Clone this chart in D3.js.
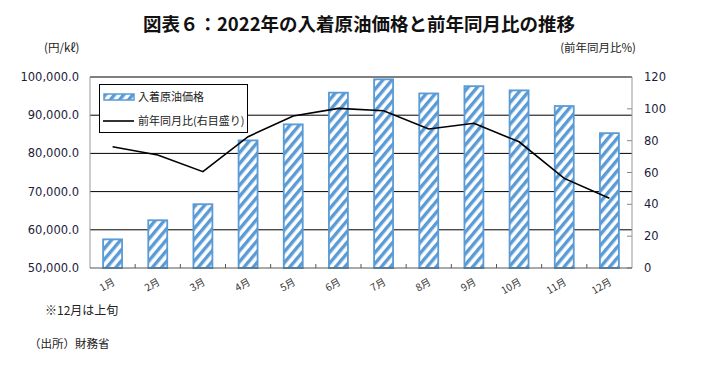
<!DOCTYPE html>
<html>
<head>
<meta charset="utf-8">
<script src="https://cdn.jsdelivr.net/npm/d3@7"></script>
<style>
  body { margin: 0; background: #fff; }
  svg { display: block; }
  text { font-family: "Noto Sans CJK JP", sans-serif; }
  .num { font-family: "DejaVu Sans", sans-serif; font-size: 11.5px; fill: #1c1c3c; }
</style>
</head>
<body>
<script>
const months = ['1月', '2月', '3月', '4月', '5月', '6月', '7月', '8月', '9月', '10月', '11月', '12月'];
const prices = [57500, 62500, 66700, 83400, 87600, 95900, 99400, 95700, 97600, 96500, 92400, 85300];
const yoy = [76.2, 71.0, 60.5, 82.5, 95.5, 100.3, 98.8, 87.3, 90.9, 79.3, 56.3, 43.8];
const leftTicks = [50000, 60000, 70000, 80000, 90000, 100000];
const rightTicks = [0, 20, 40, 60, 80, 100, 120];

const width = 701;
const height = 373;
const blue = '#5b9bd5';

const plot = { left: 90, right: 632, top: 77, bottom: 268 };

const svg = d3.select('body').append('svg').
    attr('width', width).
    attr('height', height);

const defs = svg.append('defs');

const hatch = defs.append('pattern').
    attr('id', 'hatch').
    attr('patternUnits', 'userSpaceOnUse').
    attr('width', 7).
    attr('height', 7).
    attr('patternTransform', 'rotate(40)');

hatch.append('rect').
    attr('width', 7).
    attr('height', 7).
    attr('fill', '#fff');

hatch.append('rect').
    attr('width', 3.4).
    attr('height', 7).
    attr('fill', blue);

const x = d3.scaleBand().
    domain(months).
    range([plot.left, plot.right]).
    paddingInner(0.58).
    paddingOuter(0.29);

const yLeft = d3.scaleLinear().
    domain([50000, 100000]).
    range([plot.bottom, plot.top]);

const yRight = d3.scaleLinear().
    domain([0, 120]).
    range([plot.bottom, plot.top]);

// title and unit labels
svg.append('text').
    attr('x', 359).
    attr('y', 31).
    attr('text-anchor', 'middle').
    attr('font-size', 18.5).
    attr('font-weight', 'bold').
    attr('fill', '#111').
    text('図表６：2022年の入着原油価格と前年同月比の推移');

svg.append('text').
    attr('x', 44).
    attr('y', 52).
    attr('font-size', 11.5).
    attr('fill', '#222').
    text('(円/kℓ)');

svg.append('text').
    attr('x', 636).
    attr('y', 52).
    attr('text-anchor', 'end').
    attr('font-size', 11.5).
    attr('fill', '#222').
    text('(前年同月比%)');

// gridlines
svg.append('g').
    selectAll('line').
    data(leftTicks.slice(1)).
    join('line').
    attr('x1', plot.left).
    attr('x2', plot.right).
    attr('y1', d => yLeft(d)).
    attr('y2', d => yLeft(d)).
    attr('stroke', '#000').
    attr('stroke-width', 1);

// left tick labels
svg.append('g').
    selectAll('text').
    data(leftTicks).
    join('text').
    attr('class', 'num').
    attr('x', 79).
    attr('y', d => yLeft(d) + 4).
    attr('text-anchor', 'end').
    text(d => d3.format(',.1f')(d));

// right axis
svg.append('g').
    selectAll('line').
    data(rightTicks).
    join('line').
    attr('x1', plot.right - 5).
    attr('x2', plot.right).
    attr('y1', d => yRight(d)).
    attr('y2', d => yRight(d)).
    attr('stroke', '#888');

svg.append('g').
    selectAll('text').
    data(rightTicks).
    join('text').
    attr('class', 'num').
    attr('x', 644).
    attr('y', d => yRight(d) + 4).
    text(d => d);

// bars
svg.append('g').
    selectAll('rect').
    data(prices).
    join('rect').
    attr('x', (d, i) => x(months[i])).
    attr('y', d => yLeft(d)).
    attr('width', x.bandwidth()).
    attr('height', d => plot.bottom - yLeft(d)).
    attr('fill', 'url(#hatch)').
    attr('stroke', blue).
    attr('stroke-width', 1.8);

// axis frame lines
svg.append('line').
    attr('x1', plot.left).attr('x2', plot.left).
    attr('y1', plot.top).attr('y2', plot.bottom).
    attr('stroke', '#999');

svg.append('line').
    attr('x1', plot.right).attr('x2', plot.right).
    attr('y1', plot.top).attr('y2', plot.bottom).
    attr('stroke', '#999');

svg.append('line').
    attr('x1', plot.left).attr('x2', plot.right).
    attr('y1', plot.bottom).attr('y2', plot.bottom).
    attr('stroke', '#555');

const step = x.step();

svg.append('g').
    selectAll('line').
    data(d3.range(1, months.length)).
    join('line').
    attr('x1', d => plot.left + d * step).
    attr('x2', d => plot.left + d * step).
    attr('y1', plot.bottom - 4).
    attr('y2', plot.bottom).
    attr('stroke', '#555');

// month labels
svg.append('g').
    selectAll('text').
    data(months).
    join('text').
    attr('transform', d => `translate(${x(d) + x.bandwidth() / 2 + 3}, 284) rotate(-30)`).
    attr('text-anchor', 'end').
    attr('font-size', 10).
    attr('fill', '#333').
    text(d => d);

// yoy line
const line = d3.line().
    x((d, i) => x(months[i]) + x.bandwidth() / 2).
    y(d => yRight(d));

svg.append('path').
    datum(yoy).
    attr('d', line).
    attr('fill', 'none').
    attr('stroke', '#000').
    attr('stroke-width', 1.6);

// legend
const legend = svg.append('g');

legend.append('rect').
    attr('x', 99.5).
    attr('y', 84.5).
    attr('width', 148).
    attr('height', 48).
    attr('fill', '#fff').
    attr('stroke', '#000');

legend.append('rect').
    attr('x', 104).
    attr('y', 94).
    attr('width', 30).
    attr('height', 6).
    attr('fill', 'url(#hatch)').
    attr('stroke', blue).
    attr('stroke-width', 1.5);

legend.append('text').
    attr('x', 138).
    attr('y', 101).
    attr('font-size', 11).
    attr('fill', '#222').
    text('入着原油価格');

legend.append('line').
    attr('x1', 103).
    attr('x2', 134).
    attr('y1', 121).
    attr('y2', 121).
    attr('stroke', '#000').
    attr('stroke-width', 1.6);

legend.append('text').
    attr('x', 138).
    attr('y', 125).
    attr('font-size', 11).
    attr('fill', '#222').
    text('前年同月比(右目盛り)');

// notes
svg.append('text').
    attr('x', 45).
    attr('y', 315).
    attr('font-size', 12).
    attr('fill', '#222').
    text('※12月は上旬');

svg.append('text').
    attr('x', 29).
    attr('y', 348).
    attr('font-size', 11.5).
    attr('fill', '#222').
    text('（出所）財務省');
</script>
</body>
</html>
